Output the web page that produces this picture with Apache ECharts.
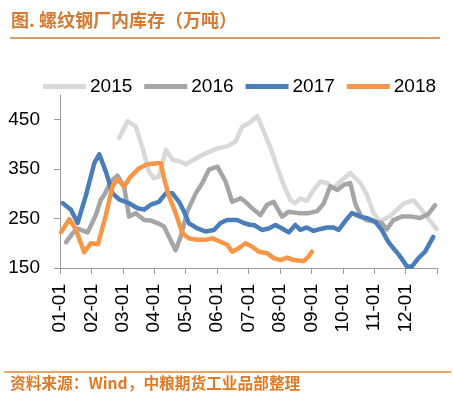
<!DOCTYPE html>
<html>
<head>
<meta charset="utf-8">
<script src="https://cdn.jsdelivr.net/npm/echarts@6/dist/echarts.min.js"></script>
<style>
  html, body { margin: 0; padding: 0; background: #fff; }
  #main { width: 453px; height: 398px; }
</style>
</head>
<body>
<div id="main"></div>
<script>
// x = position in months from 01-01, y = 万吨
var monthLabels = ['01-01', '02-01', '03-01', '04-01', '05-01', '06-01',
                   '07-01', '08-01', '09-01', '10-01', '11-01', '12-01'];
var yTicks = [150, 250, 350, 450];

var d2015 = [[1.88,413],[2.15,447],[2.41,436],[2.63,393],[2.83,345],[2.99,332],[3.15,335],
  [3.37,389],[3.58,369],[3.79,366],[4.00,360],[4.26,369],[4.53,379],[4.79,386],[5.06,393],
  [5.32,396],[5.59,406],[5.80,436],[6.01,443],[6.28,457],[6.49,426],[6.70,393],[6.91,355],
  [7.12,318],[7.33,288],[7.49,281],[7.65,291],[7.86,286],[8.07,308],[8.29,325],[8.50,322],
  [8.71,312],[8.97,328],[9.24,342],[9.56,322],[9.77,298],[9.98,261],[10.19,244],[10.51,255],
  [10.93,280],[11.25,287],[11.46,272],[11.72,250],[11.99,229]];

var d2016 = [[0.19,202],[0.40,220],[0.54,230],[0.88,222],[1.14,257],[1.30,288],[1.41,298],
  [1.62,325],[1.83,337],[2.04,315],[2.20,254],[2.41,261],[2.68,247],[2.89,246],[3.10,241],
  [3.31,234],[3.47,213],[3.68,186],[3.84,213],[4.05,264],[4.32,301],[4.53,322],[4.74,349],
  [5.01,355],[5.27,325],[5.48,284],[5.75,291],[5.90,284],[6.06,274],[6.38,257],[6.59,278],
  [6.80,284],[7.07,254],[7.28,264],[7.60,261],[7.91,261],[8.18,265],[8.39,280],[8.60,315],
  [8.83,308],[9.03,318],[9.24,322],[9.40,280],[9.59,254],[9.75,247],[9.98,244],[10.24,241],
  [10.40,228],[10.61,247],[10.88,254],[11.20,254],[11.46,251],[11.72,259],[11.94,277]];

var d2017 = [[0.09,281],[0.35,268],[0.56,241],[0.83,298],[1.09,362],[1.25,380],[1.46,345],
  [1.67,301],[1.88,289],[2.20,281],[2.47,271],[2.68,268],[2.89,278],[3.15,284],[3.37,301],
  [3.58,301],[3.79,284],[3.95,264],[4.10,241],[4.37,230],[4.63,224],[4.90,227],[5.11,241],
  [5.32,247],[5.64,247],[5.85,241],[6.06,237],[6.17,237],[6.43,227],[6.64,230],[6.86,237],
  [7.07,230],[7.28,222],[7.49,237],[7.65,227],[7.86,232],[8.07,225],[8.29,229],[8.50,232],
  [8.71,232],[8.87,227],[9.08,245],[9.29,261],[9.56,254],[9.77,251],[10.03,244],[10.24,227],
  [10.45,203],[10.61,190],[10.77,178],[10.93,164],[11.04,153],[11.20,153],[11.41,170],
  [11.62,183],[11.88,213]];

var d2018 = [[0.03,222],[0.30,249],[0.51,227],[0.77,182],[0.98,200],[1.21,198],[1.46,257],
  [1.67,315],[1.83,330],[2.04,315],[2.25,335],[2.52,352],[2.78,360],[3.10,362],[3.21,362],
  [3.31,332],[3.47,295],[3.68,261],[3.90,220],[4.10,210],[4.37,207],[4.63,207],[4.85,210],
  [5.11,203],[5.32,197],[5.48,183],[5.69,190],[5.90,200],[6.12,193],[6.33,183],[6.59,180],
  [6.80,170],[7.02,166],[7.23,171],[7.44,166],[7.76,164],[7.91,173],[8.02,183]];

var seriesNames = ['2015', '2016', '2017', '2018'];
var seriesData = [d2015, d2016, d2017, d2018];
var colors = ['#d9d9d9', '#a5a5a5', '#4a7ebb', '#f79646'];

var chart = echarts.init(document.getElementById('main'));

var option = {
  backgroundColor: '#fff',
  animation: false,
  color: colors,
  title: {
    text: '图. 螺纹钢厂内库存（万吨）',
    left: 6,
    top: 6,
    textStyle: {
      fontFamily: 'Noto Sans CJK SC',
      fontSize: 18,
      fontWeight: 'bold',
      color: '#d57a30'
    }
  },
  legend: {
    data: seriesNames,
    left: 38,
    top: 72,
    icon: 'rect',
    itemWidth: 43,
    itemHeight: 5,
    itemGap: 12,
    textStyle: {
      fontFamily: 'Liberation Sans',
      fontSize: 19,
      color: '#000',
      padding: [0, 0, 0, -1]
    }
  },
  grid: {
    left: 60,
    right: 16,
    top: 95,
    bottom: 130
  },
  xAxis: {
    type: 'value',
    min: 0,
    max: 12,
    interval: 1,
    splitLine: { show: false },
    axisLine: { lineStyle: { color: '#999', width: 1 } },
    axisTick: { show: true, length: 6, lineStyle: { color: '#999' } },
    axisLabel: {
      rotate: 90,
      margin: 16,
      fontFamily: 'Liberation Sans',
      fontSize: 19,
      color: '#000',
      formatter: function (v) { return monthLabels[v] || ''; }
    }
  },
  yAxis: {
    type: 'value',
    min: 150,
    max: 500,
    interval: 100,
    splitLine: { show: false },
    axisLine: { show: true, lineStyle: { color: '#999', width: 1 } },
    axisTick: { show: true, length: 6, customValues: yTicks, lineStyle: { color: '#999' } },
    axisLabel: {
      customValues: yTicks,
      margin: 20,
      fontFamily: 'Liberation Sans',
      fontSize: 19,
      color: '#000'
    }
  },
  series: seriesNames.map(function (name, i) {
    return {
      name: name,
      type: 'line',
      data: seriesData[i],
      symbol: 'none',
      lineStyle: { width: 4.5, color: colors[i], cap: 'round', join: 'round' },
      z: 2 + i
    };
  }),
  graphic: [
    {
      type: 'line',
      shape: { x1: 10, y1: 38, x2: 440, y2: 38 },
      style: { stroke: '#dc9c66', lineWidth: 2 }
    },
    {
      type: 'line',
      shape: { x1: 4, y1: 372, x2: 451, y2: 372 },
      style: { stroke: '#e8832f', lineWidth: 1.5 }
    },
    {
      type: 'text',
      left: 10,
      top: 375,
      style: {
        text: '资料来源：Wind，中粮期货工业品部整理',
        font: 'bold 15.7px "Noto Sans CJK SC"',
        fill: '#e07b24'
      }
    }
  ]
};

chart.setOption(option);
</script>
</body>
</html>
